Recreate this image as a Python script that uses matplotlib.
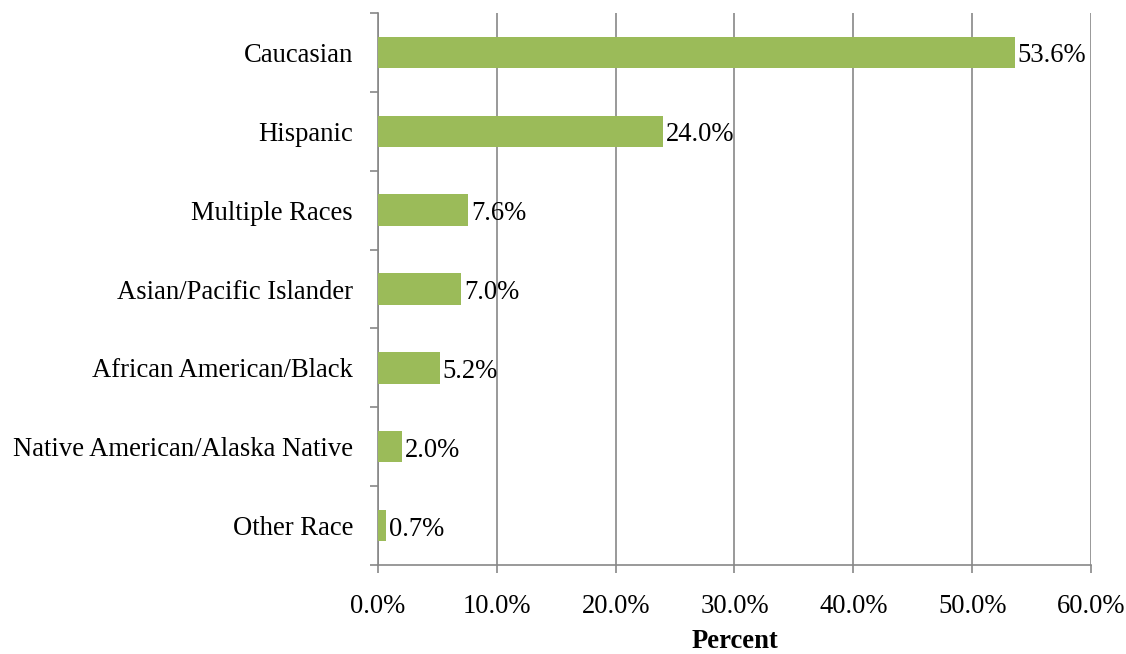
import matplotlib
matplotlib.use("Agg")
import matplotlib.pyplot as plt
from matplotlib.ticker import FuncFormatter, MultipleLocator

categories = ["Caucasian", "Hispanic", "Multiple Races", "Asian/Pacific Islander",
              "African American/Black", "Native American/Alaska Native", "Other Race"]
values = [53.6, 24.0, 7.6, 7.0, 5.2, 2.0, 0.7]

plt.rcParams['font.family'] = ['Liberation Serif', 'DejaVu Serif']
fs = 19.2
fig = plt.figure(figsize=(11.26, 6.54), dpi=100)
ax = fig.add_axes([0.3357, 0.1361, 0.9689 - 0.3357, 0.980 - 0.1361])

n = len(categories)
ypos = list(range(n))[::-1]
grid_c = '#878787'
ax.barh(ypos, values, height=0.4, color='#9BBB59', zorder=3)
for y, v in zip(ypos, values):
    ax.annotate(f"{v:.1f}%", (v, y), xytext=(2, -2.5), textcoords='offset points',
                va='center', ha='left', fontsize=fs, zorder=4)

ax.set_xlim(0, 60)
ax.set_ylim(-0.5, n - 0.5)
ax.xaxis.set_major_locator(MultipleLocator(10))
ax.xaxis.set_major_formatter(FuncFormatter(lambda x, p: f"{x:.1f}%"))
ax.set_yticks(ypos)
ax.set_yticklabels(categories)
ax.set_yticks([i - 0.5 for i in range(n + 1)], minor=True)
ax.tick_params(axis='y', which='major', length=0, pad=18, labelsize=fs)
ax.tick_params(axis='y', which='minor', length=6, width=1.2, color=grid_c)
ax.tick_params(axis='x', length=6, width=1.2, color=grid_c, labelsize=fs, pad=15)
ax.grid(axis='x', color=grid_c, linewidth=1.2, zorder=0)
for s in ['top', 'right']:
    ax.spines[s].set_visible(False)
for s in ['left', 'bottom']:
    ax.spines[s].set_color(grid_c)
    ax.spines[s].set_linewidth(1.2)
ax.set_xlabel("Percent", fontweight='bold', fontsize=fs, labelpad=7)

fig.savefig("out.png", dpi=100)
